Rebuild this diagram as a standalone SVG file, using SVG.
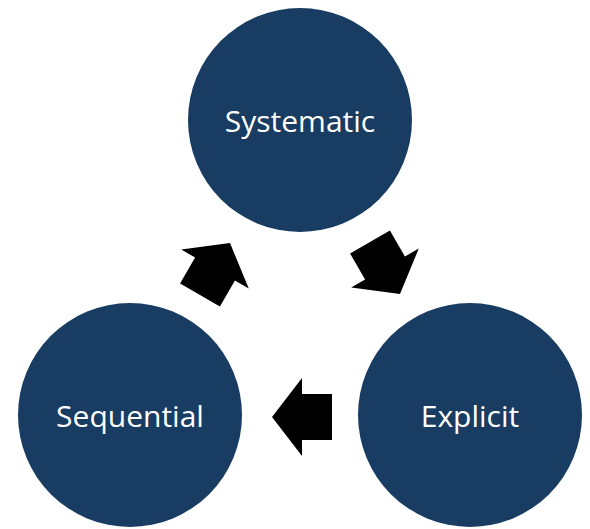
<svg xmlns="http://www.w3.org/2000/svg" width="590" height="529" viewBox="0 0 590 529">
<style>
.node circle{fill:#183c62;}
.node text{fill:#ffffff;font-family:"Open Sans","Noto Sans",sans-serif;font-size:30px;text-anchor:middle;dominant-baseline:central;}
.arrow{fill:#000000;}
</style>
<defs>
<polygon id="arr" points="-30,0 0,-39 0,-23 30,-23 30,23 0,23 0,39"/>
</defs>
<rect width="590" height="529" fill="#ffffff"/>
<g id="node-systematic" class="node"><circle cx="300" cy="120" r="112"/><text x="300" y="120">Systematic</text></g>
<g id="node-explicit" class="node"><circle cx="470" cy="415" r="112"/><text x="470" y="415">Explicit</text></g>
<g id="node-sequential" class="node"><circle cx="130" cy="415" r="112"/><text x="130" y="415">Sequential</text></g>
<g id="connectors">
<use href="#arr" class="arrow" transform="translate(215,269) rotate(120)"/>
<use href="#arr" class="arrow" transform="translate(385,268) rotate(240)"/>
<use href="#arr" class="arrow" transform="translate(302,417)"/>
</g>
</svg>
